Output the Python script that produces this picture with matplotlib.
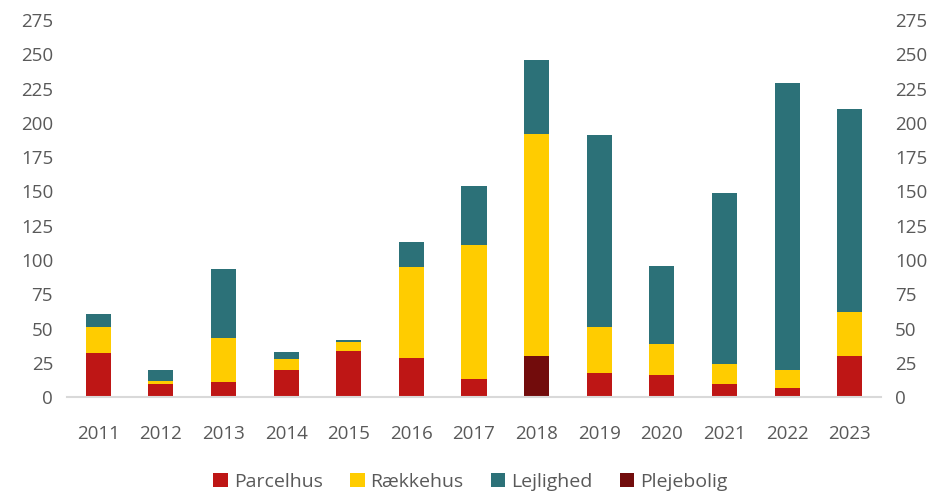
import numpy as np
import matplotlib.pyplot as plt

plt.rcParams['font.family'] = ['Open Sans', 'DejaVu Sans']

years = ['2011', '2012', '2013', '2014', '2015', '2016', '2017',
         '2018', '2019', '2020', '2021', '2022', '2023']
parcelhus = [32, 10, 11, 20, 34, 29, 13, 0, 17.5, 16, 10, 7, 30]
plejebolig = [0, 0, 0, 0, 0, 0, 0, 30, 0, 0, 0, 0, 0]
raekkehus = [19.5, 2, 32.5, 8, 6, 66, 98, 162, 34, 23, 14, 13, 32]
lejlighed = [9, 8, 50, 5, 1.5, 18, 43, 54, 140, 57, 125, 209, 148]

c_parcel = '#BE1615'
c_raekke = '#FFCC00'
c_lejl = '#2C7178'
c_pleje = '#720C0C'
txt = '#595959'

fig = plt.figure(figsize=(9.41, 4.94), dpi=100)
ax = fig.add_axes([0.0712, 0.1957, 0.865, 0.764])

x = np.arange(len(years))
w = 0.4
bottom = np.zeros(len(years))
series = [
    ('Parcelhus', parcelhus, c_parcel),
    ('Plejebolig', plejebolig, c_pleje),
    ('Rækkehus', raekkehus, c_raekke),
    ('Lejlighed', lejlighed, c_lejl),
]
handles = {}
for name, vals, col in series:
    vals = np.array(vals, dtype=float)
    b = ax.bar(x, vals, w, bottom=bottom, color=col, linewidth=0,
               label=name, zorder=2)
    handles[name] = b
    bottom += vals

ax.set_xlim(-0.5, len(years) - 0.5)
ax.set_ylim(0, 275)
ticks = np.arange(0, 276, 25)
ax.set_yticks(ticks)
ax.set_xticks(x)
ax.set_xticklabels(years)

for s in ['top', 'right', 'left']:
    ax.spines[s].set_visible(False)
ax.spines['bottom'].set_color('#d9d9d9')
ax.spines['bottom'].set_linewidth(1.5)
ax.tick_params(axis='both', length=0, labelsize=13.5, colors=txt)
ax.tick_params(axis='x', pad=20)
ax.tick_params(axis='y', pad=10)

ax2 = ax.twinx()
ax2.set_ylim(0, 275)
ax2.set_yticks(ticks)
for s in ['top', 'right', 'left', 'bottom']:
    ax2.spines[s].set_visible(False)
ax2.tick_params(axis='y', length=0, labelsize=13.5, colors=txt, pad=10)

order = ['Parcelhus', 'Rækkehus', 'Lejlighed', 'Plejebolig']
leg = fig.legend([handles[n] for n in order], order, loc='center',
                 bbox_to_anchor=(0.5, 0.024), ncol=4, frameon=False,
                 fontsize=14, handlelength=0.75, handleheight=0.75,
                 handletextpad=0.3, columnspacing=1.4)
for t in leg.get_texts():
    t.set_color(txt)

fig.savefig('out.png', dpi=100)
